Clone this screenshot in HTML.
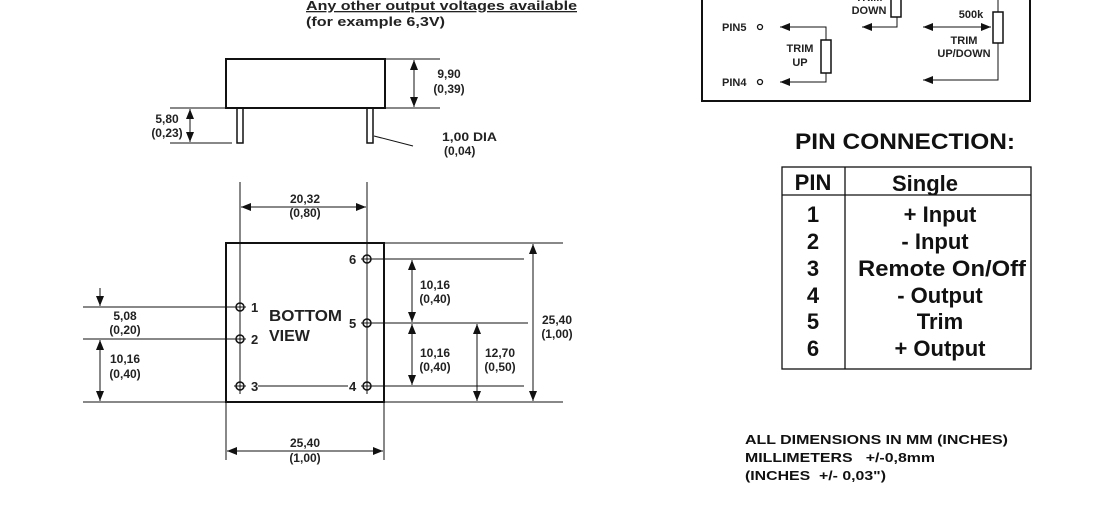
<!DOCTYPE html>
<html><head><meta charset="utf-8"><style>
html,body{margin:0;padding:0;background:#fff;}
svg{display:block;font-family:"Liberation Sans",Arial,sans-serif;font-weight:bold;}
</style></head><body>
<svg width="1113" height="509" viewBox="0 0 1113 509" xmlns="http://www.w3.org/2000/svg">
<defs>
<marker id="a" viewBox="0 0 10 8" refX="10" refY="4" markerWidth="10" markerHeight="8" markerUnits="userSpaceOnUse" orient="auto-start-reverse"><path d="M0,0L10,4L0,8z" fill="#111"/></marker>
</defs>
<g fill="#222" font-size="13">
<text x="306" y="10" text-decoration="underline" textLength="271" lengthAdjust="spacingAndGlyphs">Any other output voltages available</text>
<text x="306" y="26" textLength="139" lengthAdjust="spacingAndGlyphs">(for example 6,3V)</text>
</g>
<g stroke="#111" fill="none" stroke-width="1">
<rect x="226" y="59" width="159" height="49" stroke-width="2"/>
<rect x="237" y="108" width="6" height="35" stroke-width="1.5"/>
<rect x="367" y="108" width="6" height="35" stroke-width="1.5"/>
<line x1="385" y1="59" x2="440" y2="59"/>
<line x1="385" y1="108" x2="440" y2="108"/>
<line x1="414" y1="60" x2="414" y2="107" marker-start="url(#a)" marker-end="url(#a)"/>
<line x1="170" y1="108" x2="226" y2="108"/>
<line x1="170" y1="143" x2="232" y2="143"/>
<line x1="190" y1="109" x2="190" y2="142" marker-start="url(#a)" marker-end="url(#a)"/>
<line x1="374" y1="136" x2="413" y2="146"/>
<rect x="226" y="243" width="158" height="159" stroke-width="2"/>
<line x1="240" y1="182" x2="240" y2="394"/>
<line x1="367" y1="182" x2="367" y2="394"/>
<line x1="241" y1="207" x2="366" y2="207" marker-start="url(#a)" marker-end="url(#a)"/>
<line x1="384" y1="243" x2="563" y2="243"/>
<line x1="384" y1="402" x2="563" y2="402"/>
<line x1="372" y1="259" x2="524" y2="259"/>
<line x1="372" y1="323" x2="528" y2="323"/>
<line x1="372" y1="386" x2="524" y2="386"/>
<line x1="258" y1="386" x2="348" y2="386"/>
<line x1="412" y1="260" x2="412" y2="322" marker-start="url(#a)" marker-end="url(#a)"/>
<line x1="412" y1="324" x2="412" y2="385" marker-start="url(#a)" marker-end="url(#a)"/>
<line x1="477" y1="324" x2="477" y2="401" marker-start="url(#a)" marker-end="url(#a)"/>
<line x1="533" y1="244" x2="533" y2="401" marker-start="url(#a)" marker-end="url(#a)"/>
<line x1="83" y1="307" x2="235" y2="307"/>
<line x1="83" y1="339" x2="235" y2="339"/>
<line x1="83" y1="402" x2="226" y2="402"/>
<line x1="100" y1="288" x2="100" y2="306" marker-end="url(#a)"/>
<line x1="100" y1="340" x2="100" y2="401" marker-start="url(#a)" marker-end="url(#a)"/>
<line x1="226" y1="402" x2="226" y2="460"/>
<line x1="384" y1="402" x2="384" y2="460"/>
<line x1="227" y1="451" x2="383" y2="451" marker-start="url(#a)" marker-end="url(#a)"/>
<g stroke-width="1.5">
<circle cx="240" cy="307" r="4"/><circle cx="240" cy="339" r="4"/><circle cx="240" cy="386" r="4"/>
<circle cx="367" cy="259" r="4"/><circle cx="367" cy="323" r="4"/><circle cx="367" cy="386" r="4"/>
</g>
<path d="M234 307h12M234 339h12M234 386h12M361 259h12M361 323h12M361 386h12"/>
<path d="M702 -2V101H1030V-2" stroke-width="2"/>
<circle cx="760" cy="27" r="2.5" stroke-width="1.3"/>
<circle cx="760" cy="82" r="2.5" stroke-width="1.3"/>
<path d="M826 40V27H780" marker-end="url(#a)"/>
<path d="M826 73V82H780" marker-end="url(#a)"/>
<rect x="821" y="40" width="10" height="33" stroke-width="1.5"/>
<rect x="891" y="-5" width="10" height="22" stroke-width="1.5"/>
<path d="M897 17V27H862" marker-end="url(#a)"/>
<line x1="923" y1="27" x2="991" y2="27" marker-start="url(#a)" marker-end="url(#a)"/>
<rect x="993" y="12" width="10" height="31" stroke-width="1.5"/>
<line x1="998" y1="0" x2="998" y2="12"/>
<path d="M998 43V80H923" marker-end="url(#a)"/>
<rect x="782" y="167" width="249" height="202" stroke-width="1.3"/>
<line x1="845" y1="167" x2="845" y2="369" stroke-width="1.3"/>
<line x1="782" y1="195" x2="1031" y2="195" stroke-width="1.3"/>
</g>
<g fill="#222" font-size="12" text-anchor="middle">
<text x="167" y="123">5,80</text><text x="167" y="137">(0,23)</text>
<text x="449" y="78">9,90</text><text x="449" y="93">(0,39)</text>
<text x="442" y="141" text-anchor="start" textLength="55" lengthAdjust="spacingAndGlyphs">1,00 DIA</text><text x="444" y="155" text-anchor="start">(0,04)</text>
<text x="305" y="203">20,32</text><text x="305" y="217">(0,80)</text>
<text x="435" y="289">10,16</text><text x="435" y="303">(0,40)</text>
<text x="435" y="357">10,16</text><text x="435" y="371">(0,40)</text>
<text x="500" y="357">12,70</text><text x="500" y="371">(0,50)</text>
<text x="557" y="324">25,40</text><text x="557" y="338">(1,00)</text>
<text x="125" y="320">5,08</text><text x="125" y="334">(0,20)</text>
<text x="125" y="363">10,16</text><text x="125" y="378">(0,40)</text>
<text x="305" y="447">25,40</text><text x="305" y="462">(1,00)</text>
</g>
<g fill="#222" font-size="13">
<text x="251" y="312">1</text><text x="251" y="344">2</text><text x="251" y="391">3</text>
<text x="349" y="264">6</text><text x="349" y="328">5</text><text x="349" y="391">4</text>
</g>
<g fill="#222" font-size="16">
<text x="269" y="321" textLength="73" lengthAdjust="spacingAndGlyphs">BOTTOM</text><text x="269" y="341">VIEW</text>
</g>
<g fill="#222" font-size="11">
<text x="722" y="31">PIN5</text><text x="722" y="86">PIN4</text>
<text x="800" y="52" text-anchor="middle">TRIM</text><text x="800" y="66" text-anchor="middle">UP</text>
<text x="869" y="1" text-anchor="middle">TRIM</text>
<text x="869" y="14" text-anchor="middle">DOWN</text>
<text x="971" y="18" text-anchor="middle">500k</text>
<text x="964" y="44" text-anchor="middle">TRIM</text><text x="964" y="57" text-anchor="middle">UP/DOWN</text>
</g>
<text x="795" y="149" font-size="22" fill="#111" textLength="220" lengthAdjust="spacingAndGlyphs">PIN  CONNECTION:</text>
<g font-size="22" fill="#111" text-anchor="middle">
<text x="813" y="190">PIN</text><text x="925" y="191">Single</text>
<text x="813" y="222">1</text><text x="940" y="222">+ Input</text>
<text x="813" y="249">2</text><text x="935" y="249">-  Input</text>
<text x="813" y="276">3</text><text x="942" y="276" textLength="168" lengthAdjust="spacingAndGlyphs">Remote On/Off</text>
<text x="813" y="303">4</text><text x="940" y="303">-  Output</text>
<text x="813" y="329">5</text><text x="940" y="329">Trim</text>
<text x="813" y="356">6</text><text x="940" y="356">+ Output</text>
</g>
<g font-size="13" fill="#111">
<text x="745" y="444" textLength="263" lengthAdjust="spacingAndGlyphs">ALL DIMENSIONS IN MM (INCHES)</text>
<text x="745" y="462" xml:space="preserve" textLength="190" lengthAdjust="spacingAndGlyphs">MILLIMETERS   +/-0,8mm</text>
<text x="745" y="480" xml:space="preserve" textLength="141" lengthAdjust="spacingAndGlyphs">(INCHES  +/- 0,03")</text>
</g>
</svg>
</body></html>
